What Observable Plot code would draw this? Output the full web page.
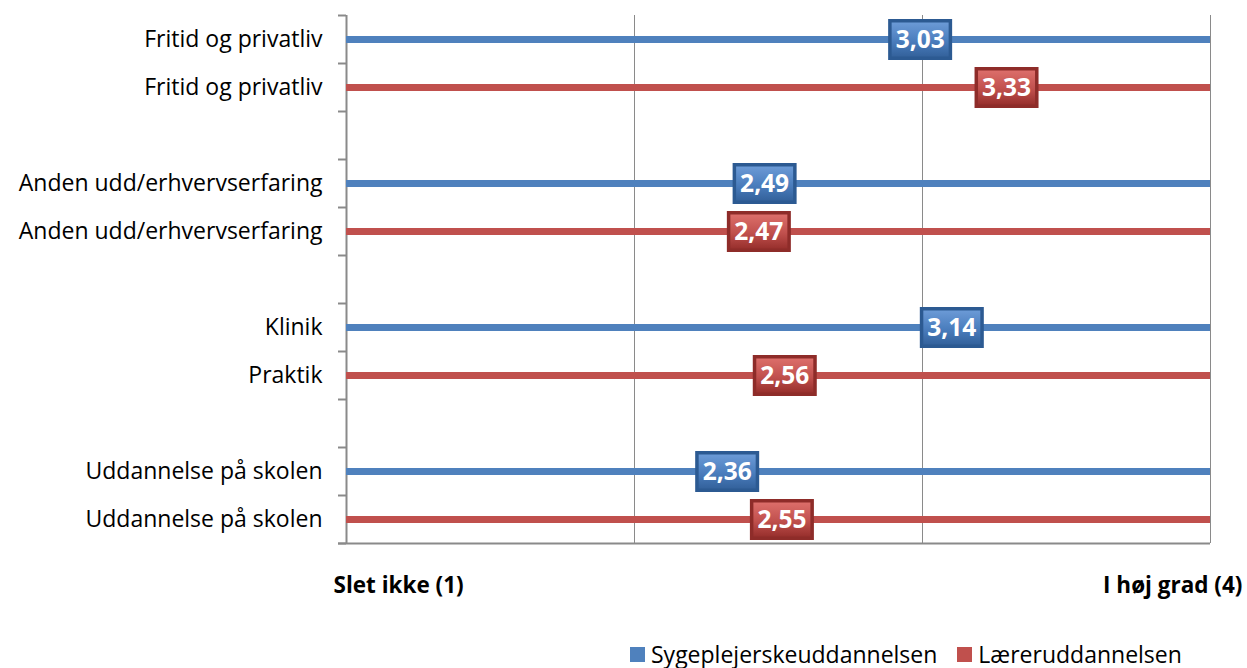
<!DOCTYPE html>
<html>
<head>
<meta charset="utf-8">
<script src="https://cdn.jsdelivr.net/npm/d3@7"></script>
<script src="https://cdn.jsdelivr.net/npm/@observablehq/plot@0.6"></script>
<style>
  html, body { margin: 0; padding: 0; background: #fff; }
  #wrap { position: relative; width: 1247px; height: 668px; font-family: "Open Sans", sans-serif; }
  #legend { position: absolute; left: 630px; top: 638px; font-size: 23px; color: #000; display: flex; align-items: center; white-space: nowrap; }
  #legend .sw { display: inline-block; width: 15px; height: 15px; margin-right: 6px; }
  #legend .item { display: flex; align-items: center; margin-right: 20px; }
</style>
</head>
<body>
<div id="wrap"><div id="chart"></div><div id="legend"></div></div>
<script>
// ---- data ----
const seriesNames = ["Sygeplejerskeuddannelsen", "Læreruddannelsen"];
const seriesColors = ["#4f81bd", "#c0504d"];
const seriesDark = ["#2c5a92", "#8e2c29"];
const blueLabels = ["Fritid og privatliv", "Anden udd/erhvervserfaring", "Klinik", "Uddannelse på skolen"];
const redLabels = ["Fritid og privatliv", "Anden udd/erhvervserfaring", "Praktik", "Uddannelse på skolen"];
const blueValues = [3.03, 2.49, 3.14, 2.36];
const redValues = [3.33, 2.47, 2.56, 2.55];
const axisLabels = ["Slet ikke (1)", "I høj grad (4)"];
const axisEnds = [1, 4];

// build rows: each group has two rows followed by a blank slot
const labelsBySeries = [blueLabels, redLabels];
const valuesBySeries = [blueValues, redValues];
const rows = [];
for (let g = 0; g < blueValues.length; g++) {
  for (let s = 0; s < 2; s++) {
    rows.push({row: g * 3 + s + 0.5, label: labelsBySeries[s][g], value: valuesBySeries[s][g], series: s});
  }
}
const nSlots = blueValues.length * 3 - 1;
const slotTicks = d3.range(0, nSlots + 1);

const boxOuter = {draw(ctx) { ctx.rect(-32, -20.5, 64, 41); }};
const boxInner = {draw(ctx) { ctx.rect(-28.5, -17, 57, 34); }};

const fmt = v => v.toFixed(2).replace(".", ",");

const svgMarks = [
  Plot.ruleX([2, 3, 4], {y1: 0, y2: nSlots, stroke: "#8a8a8a", strokeWidth: 1}),
  Plot.ruleX([1], {y1: 0, y2: nSlots, stroke: "#8a8a8a", strokeWidth: 2}),
  Plot.ruleY([nSlots], {x1: 1, x2: 4, stroke: "#8a8a8a", strokeWidth: 2, insetLeft: -8}),
  Plot.ruleY(slotTicks, {x1: 1, x2: 1, stroke: "#8a8a8a", strokeWidth: 2, insetLeft: -8}),
  Plot.text(rows, {x: 1, y: "row", text: "label", textAnchor: "end", dx: -24, fontSize: 23, fill: "#000"})
];

for (let s = 0; s < 2; s++) {
  const data = rows.filter(d => d.series === s);
  svgMarks.push(
    Plot.ruleY(data, {y: "row", x1: 1, x2: 4, stroke: seriesColors[s], strokeWidth: 7})
  );
}
for (let s = 0; s < 2; s++) {
  const data = rows.filter(d => d.series === s);
  svgMarks.push(
    Plot.dot(data, {x: "value", y: "row", dx: -11, symbol: boxOuter, r: 10, fill: seriesDark[s], stroke: "none"}),
    Plot.dot(data, {x: "value", y: "row", dx: -11, symbol: boxInner, r: 10, fill: `url(#grad${s})`, stroke: "none"}),
    Plot.text(data, {x: "value", y: "row", dx: -11, dy: 1, text: d => fmt(d.value), fill: "#fff", fontSize: 24.5, fontWeight: "bold"})
  );
}
svgMarks.push(
  Plot.text([0], {x: axisEnds[0], y: nSlots, text: () => axisLabels[0], textAnchor: "start", dx: -13, dy: 42, fontSize: 22.5, fontWeight: "bold", fill: "#000"}),
  Plot.text([0], {x: axisEnds[1], y: nSlots, text: () => axisLabels[1], textAnchor: "end", dx: 32, dy: 42, fontSize: 22.5, fontWeight: "bold", fill: "#000"})
);

const chart = Plot.plot({
  width: 1247,
  height: 630,
  marginLeft: 346,
  marginRight: 37,
  marginTop: 15,
  marginBottom: 87,
  style: {fontFamily: "'Open Sans', sans-serif", background: "#fff", overflow: "visible"},
  x: {domain: [1, 4], axis: null},
  y: {domain: [nSlots, 0], axis: null},
  marks: svgMarks
});

// gradients for value boxes
const svg = d3.select(chart);
const defs = svg.insert("defs", ":first-child");
const grads = [["#6b9ad6", "#4a7dbd", "#34629c"], ["#dc6e6a", "#c0504d", "#98302d"]];
grads.forEach((g, i) => {
  const lg = defs.append("linearGradient").attr("id", `grad${i}`).attr("x1", 0).attr("y1", 0).attr("x2", 0).attr("y2", 1);
  lg.append("stop").attr("offset", "0%").attr("stop-color", g[0]);
  lg.append("stop").attr("offset", "55%").attr("stop-color", g[1]);
  lg.append("stop").attr("offset", "100%").attr("stop-color", g[2]);
});

document.getElementById("chart").appendChild(chart);

// legend
const legend = document.getElementById("legend");
seriesNames.forEach((name, i) => {
  const item = document.createElement("div");
  item.className = "item";
  const sw = document.createElement("span");
  sw.className = "sw";
  sw.style.background = seriesColors[i];
  item.appendChild(sw);
  item.appendChild(document.createTextNode(name));
  legend.appendChild(item);
});
</script>
</body>
</html>
